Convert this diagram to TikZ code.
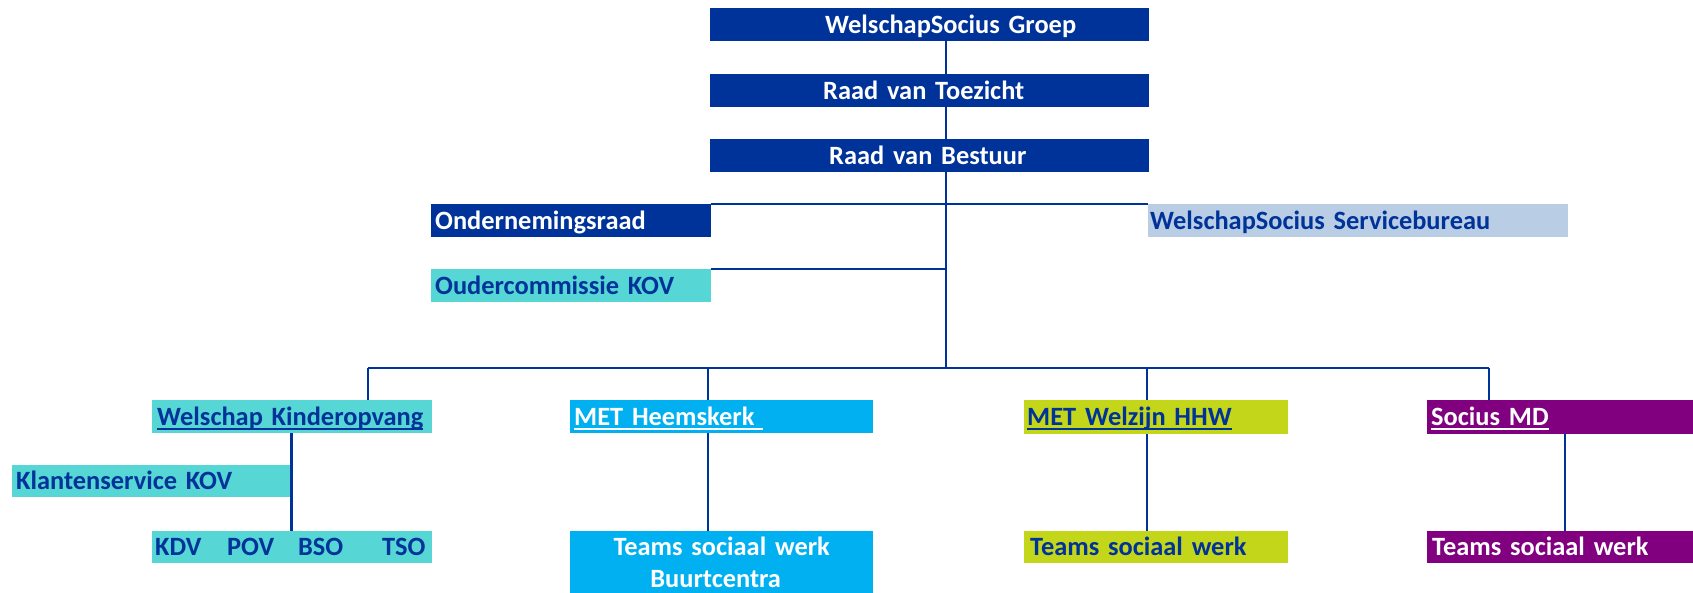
\documentclass[tikz,border=0pt]{standalone}
\usepackage{fontspec}
\setmainfont{Carlito}
\newcommand{\ondlijn}[1]{\setbox0\hbox{#1}\rlap{\rule[-4.7pt]{\wd0}{2pt}}\box0}
\definecolor{wsblauw}{RGB}{0,51,153}
\definecolor{wslicht}{RGB}{185,205,228}
\definecolor{wsturkoois}{RGB}{86,214,212}
\definecolor{wscyaan}{RGB}{0,176,240}
\definecolor{wslimoen}{RGB}{196,214,26}
\definecolor{wspaars}{RGB}{128,0,128}

\begin{document}
\begin{tikzpicture}[x=1pt,y=1pt]
\tikzstyle{every node}+=[inner sep=0pt]
\tikzset{
  blok/.style={anchor=north west, align=left, minimum height=33pt, text height=20pt, text depth=3pt, font=\fontsize{26.4}{32}\selectfont\bfseries},
  lpad/.style={execute at begin node={\hspace*{#1pt}}},
  donker/.style={blok, fill=wsblauw, text=white},
  licht/.style={blok, fill=wslicht, text=wsblauw},
  turkoois/.style={blok, fill=wsturkoois, text=wsblauw},
  cyaan/.style={blok, fill=wscyaan, text=white},
  limoen/.style={blok, fill=wslimoen, text=wsblauw},
  paars/.style={blok, fill=wspaars, text=white},
  lijn/.style={draw=wsblauw, line width=2.2pt}
}
\useasboundingbox (0,0) rectangle (1693,-593);
\node[donker, text width=439pt, lpad=115] (groep) at (710,-8) {WelschapSocius Groep};
\node[donker, text width=439pt, lpad=113] (rvt) at (710,-74) {Raad van Toezicht};
\node[donker, text width=439pt, lpad=119] (rvb) at (710,-139) {Raad van Bestuur};
\node[donker, text width=280pt, lpad=4] (or) at (431,-204) {Ondernemingsraad};
\node[licht, text width=420pt, lpad=2] (sb) at (1148,-204) {WelschapSocius Servicebureau};
\node[turkoois, text width=280pt, lpad=4] (oc) at (431,-269) {Oudercommissie KOV};
\node[turkoois, text width=280pt, lpad=5] (wk) at (152,-400) {\ondlijn{Welschap Kinderopvang}};
\node[turkoois, text width=279pt, minimum height=32pt, lpad=4] (ks) at (12,-465) {Klantenservice KOV};
\node[turkoois, text width=280pt, minimum height=32pt, lpad=3] (kdv) at (152,-531) {\makebox[72pt][l]{KDV}\makebox[71pt][l]{POV}\makebox[84pt][l]{BSO}TSO};
\node[cyaan, text width=303pt, lpad=4] (meth) at (570,-400) {\ondlijn{MET Heemskerk\ }};
\node[cyaan, text width=303pt, minimum height=62pt, text height=19pt, text depth=33pt, align=center] (tsw1) at (570,-531) {Teams sociaal werk\hspace*{28pt}\\Buurtcentra\hspace*{12pt}};
\node[limoen, text width=264pt, minimum height=34pt, lpad=3] (metw) at (1024,-400) {\ondlijn{MET Welzijn HHW}};
\node[limoen, text width=264pt, minimum height=32pt, lpad=6] (tsw2) at (1024,-531) {Teams sociaal werk};
\node[paars, text width=266pt, minimum height=34pt, lpad=4] (smd) at (1427,-400) {\ondlijn{Socius MD}};
\node[paars, text width=266pt, minimum height=32pt, lpad=5] (tsw3) at (1427,-531) {Teams sociaal werk};
\coordinate (stam) at (946,-368);
\coordinate (tak1) at (368,-368);
\coordinate (tak2) at (708,-368);
\coordinate (tak3) at (1147,-368);
\coordinate (tak4) at (1489,-368);
\coordinate (mdlijn) at (1565,-480);
\draw[lijn] (groep.south -| stam) -- (rvt.north -| stam);
\draw[lijn] (rvt.south -| stam) -- (rvb.north -| stam);
\draw[lijn] (rvb.south -| stam) -- (stam);
\draw[lijn] (or.north east) -- (sb.north west);
\draw[lijn] (oc.north east) -- (oc.north east -| stam);
\draw[lijn] (tak1) -- (tak4);
\draw[lijn] (tak1) -- (wk.north -| tak1);
\draw[lijn] (tak2) -- (meth.north -| tak2);
\draw[lijn] (tak3) -- (metw.north -| tak3);
\draw[lijn] (tak4) -- (smd.north -| tak4);
\draw[lijn] (wk.south -| ks.east) -- (kdv.north -| ks.east);
\draw[lijn] (meth.south -| tak2) -- (tsw1.north -| tak2);
\draw[lijn] (metw.south -| tak3) -- (tsw2.north -| tak3);
\draw[lijn] (smd.south -| mdlijn) -- (tsw3.north -| mdlijn);
\end{tikzpicture}
\end{document}
